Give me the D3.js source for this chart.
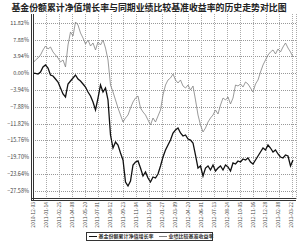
<!DOCTYPE html>
<html>
<head>
<meta charset="utf-8">
<script src="https://cdn.jsdelivr.net/npm/d3@7"></script>
<style>
  body { margin: 0; background: #fff; }
  svg { display: block; font-family: "Noto Sans CJK SC", "DejaVu Sans", sans-serif; }
</style>
</head>
<body>
<div id="chart"></div>
<script>
// x-axis tick labels
const dateLabels = ["2010-12-03", "2011-01-14", "2011-02-25", "2011-04-08", "2011-05-20",
  "2011-07-01", "2011-08-12", "2011-09-23", "2011-11-04", "2011-12-16", "2012-01-27",
  "2012-03-09", "2012-04-20", "2012-06-01", "2012-07-13", "2012-08-24", "2012-10-05",
  "2012-11-16", "2012-12-28", "2013-02-08", "2013-03-22"];

// y-axis tick values (%)
const yTicks = [11.82, 7.88, 3.94, 0.00, -3.94, -7.88, -11.82, -15.76, -19.70, -23.64, -27.58];

// fund cumulative NAV growth (%)
const fundValues = [0.00, -0.05, -0.2, 0.29, 1.47, 1.94, 1.23, -0.41, -0.64, -1.35,
  -2.05, -3.46, -4.87, -5.57, -2.52, -1.82, -1.11, -0.41, -1.35, -1.82,
  -2.52, -3.23, -4.40, -5.34, -6.74, -8.62, -5.81, -2.76, -4.40, -3.46,
  -6.27, -14.49, -17.54, -16.13, -16.83, -18.71, -20.35, -25.51, -26.45, -25.28,
  -21.52, -20.82, -20.58, -22.23, -24.10, -23.17, -24.57, -25.51, -24.34, -24.57,
  -23.63, -21.76, -19.65, -18.00, -16.83, -15.66, -14.02, -13.31, -12.84, -14.02,
  -14.72, -14.49, -15.42, -15.66, -16.36, -19.18, -22.23, -21.76, -24.10, -22.23,
  -21.76, -22.70, -21.52, -22.93, -22.23, -21.76, -22.70, -21.52, -21.99, -22.93,
  -21.05, -21.29, -20.58, -20.82, -20.12, -20.35, -19.88, -20.82, -21.29, -20.35,
  -19.41, -18.47, -17.54, -18.00, -16.83, -17.54, -18.47, -18.00, -18.94, -19.65,
  -19.88, -19.18, -19.41, -21.76, -20.35];

// benchmark return (%)
const benchValues = [2.40, 3.11, 3.58, 4.28, 5.46, 6.39, 5.69, 6.16, 4.99, 4.28,
  3.58, 2.64, 3.11, 1.47, 6.63, 9.68, 8.74, 12.02, 11.32, 9.44,
  8.27, 6.86, 7.80, 6.39, 7.10, 5.46, 7.33, 6.63, 7.80, 5.92,
  3.11, -2.76, -4.40, -6.27, -8.15, -9.79, -11.44, -10.50, -9.79, -8.15,
  -6.74, -5.81, -5.34, -8.15, -9.09, -9.79, -10.97, -12.14, -10.50, -11.44,
  -10.03, -8.62, -5.10, -2.76, -1.58, -1.11, -0.18, -1.58, -2.29, -1.58,
  -2.99, -3.46, -2.76, -3.93, -2.99, -6.27, -9.79, -12.14, -13.78, -12.84,
  -11.44, -10.50, -9.79, -8.62, -9.56, -7.45, -5.81, -6.27, -5.57, -7.21,
  -5.81, -2.76, -2.99, -2.52, -3.23, -2.05, -2.52, -3.46, -4.40, -2.52,
  -1.58, 0.29, 1.94, 3.11, 4.28, 4.99, 5.46, 4.52, 5.69, 4.99,
  6.16, 7.10, 5.92, 4.99, 3.81];

const seriesNames = ["基金份额累计净值增长率", "业绩比较基准收益率"];

let width = 300, height = 242;
let margin = { top: 14, right: 4, bottom: 43, left: 33 };

let svg = d3.select("#chart")
  .append("svg")
  .attr("width", width)
  .attr("height", height);

// title
svg.append("text")
  .attr("x", 149)
  .attr("y", 10.5)
  .attr("text-anchor", "middle")
  .style("font-size", "8.9px")
  .style("font-weight", "bold")
  .attr("fill", "#222")
  .text("基金份额累计净值增长率与同期业绩比较基准收益率的历史走势对比图");

// scales
let xScale = d3.scaleLinear()
  .domain([0, fundValues.length - 1])
  .range([margin.left, 293]);

let tickScale = d3.scalePoint()
  .domain(dateLabels)
  .range([margin.left, 291.5]);

let yScale = d3.scaleLinear()
  .domain([-29.5, 13.9])
  .range([height - margin.bottom, margin.top]);

// grid
svg.append("g")
  .selectAll("line")
  .data(yTicks)
  .enter().append("line")
  .attr("x1", margin.left)
  .attr("x2", width - margin.right)
  .attr("y1", d => Math.round(yScale(d)) + 0.5)
  .attr("y2", d => Math.round(yScale(d)) + 0.5)
  .attr("stroke", "#999")
  .attr("stroke-dasharray", "1,1");

svg.append("g")
  .selectAll("line")
  .data(dateLabels.slice(1))
  .enter().append("line")
  .attr("x1", d => Math.round(tickScale(d)) + 0.5)
  .attr("x2", d => Math.round(tickScale(d)) + 0.5)
  .attr("y1", margin.top)
  .attr("y2", height - margin.bottom)
  .attr("stroke", "#aaa")
  .attr("stroke-dasharray", "1,1");

// right border
svg.append("line")
  .attr("x1", width - margin.right + 0.5).attr("x2", width - margin.right + 0.5)
  .attr("y1", margin.top).attr("y2", height - margin.bottom)
  .attr("stroke", "#aaa").attr("stroke-dasharray", "1,1");

// y labels
svg.append("g")
  .selectAll("text")
  .data(yTicks)
  .enter().append("text")
  .attr("x", 29)
  .attr("y", d => yScale(d))
  .attr("dy", "0.35em")
  .attr("text-anchor", "end")
  .style("font-size", "5.5px")
  .attr("fill", "#444")
  .text(d => d.toFixed(2).replace("-", "\u2212") + "%");

// x labels
svg.append("g")
  .selectAll("text")
  .data(dateLabels)
  .enter().append("text")
  .attr("transform", d => `translate(${tickScale(d) + 1.8},202) rotate(-90)`)
  .attr("text-anchor", "end")
  .style("font-size", "5px")
  .attr("fill", "#444")
  .text(d => d);

// lines
let line = d3.line()
  .x((d, i) => xScale(i))
  .y(d => yScale(d));

svg.append("path")
  .datum(benchValues)
  .attr("d", line)
  .attr("fill", "none")
  .attr("stroke", "#808080")
  .attr("stroke-width", 0.8);

svg.append("path")
  .datum(fundValues)
  .attr("d", line)
  .attr("fill", "none")
  .attr("stroke", "#111")
  .attr("stroke-width", 1.3);

// double axis lines
[0, 2].forEach(off => {
  svg.append("line")
    .attr("x1", margin.left - 1.5 + off).attr("x2", margin.left - 1.5 + off)
    .attr("y1", margin.top).attr("y2", height - margin.bottom + 2)
    .attr("stroke", "#333");
  svg.append("line")
    .attr("x1", margin.left - 2).attr("x2", width - margin.right)
    .attr("y1", height - margin.bottom - 0.5 + off).attr("y2", height - margin.bottom - 0.5 + off)
    .attr("stroke", "#333");
});

// legend
let legend = svg.append("g");
legend.append("rect")
  .attr("x", 86.5).attr("y", 232.5)
  .attr("width", 126).attr("height", 8)
  .attr("fill", "#fff").attr("stroke", "#333");

let legendX = [89, 159];
let legendColor = ["#111", "#808080"];
seriesNames.forEach((name, i) => {
  legend.append("line")
    .attr("x1", legendX[i]).attr("x2", legendX[i] + 8)
    .attr("y1", 236.5).attr("y2", 236.5)
    .attr("stroke", legendColor[i]);
  legend.append("text")
    .attr("x", legendX[i] + 9.5)
    .attr("y", 236.5)
    .attr("dy", "0.35em")
    .style("font-size", "5px")
    .style("font-weight", "bold")
    .attr("fill", "#333")
    .text(name);
});
</script>
</body>
</html>
